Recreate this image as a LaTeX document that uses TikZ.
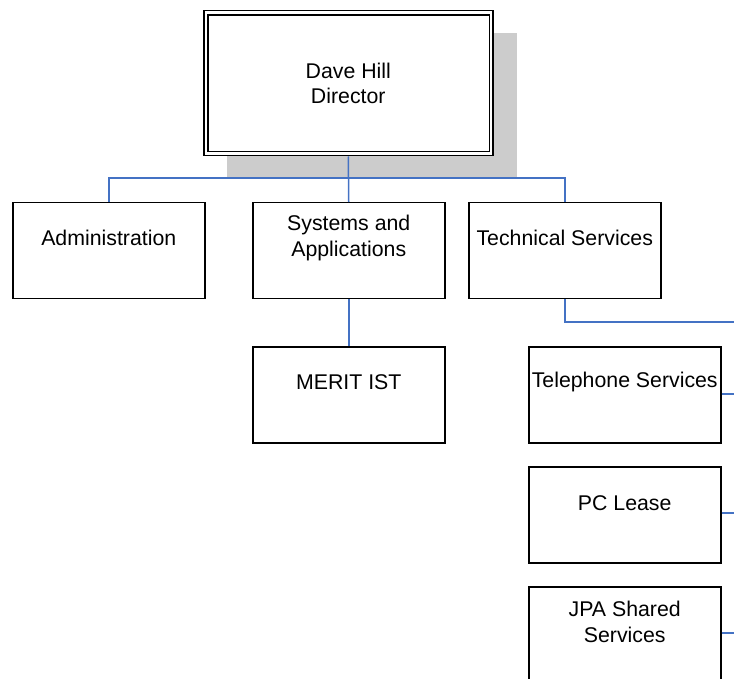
\documentclass[tikz,border=0pt]{standalone}
\usepackage{fontspec}
\setmainfont{Liberation Sans}
\definecolor{linkblue}{RGB}{68,114,196}
\definecolor{shadowgray}{RGB}{204,204,204}
\begin{document}
\begin{tikzpicture}[x=1pt,y=-1pt,
  box/.style={draw=black,line width=1.5pt,fill=white,minimum width=192pt,minimum height=96pt,anchor=north west,inner sep=0pt},
  lbl/.style={align=center,inner sep=0pt,font=\fontsize{21.3}{25.5}\selectfont},
  link/.style={draw=linkblue,line width=1.5pt}]
\useasboundingbox (0,0) rectangle (734,679);
\clip (0,0) rectangle (734,679);
% shadow
\fill[shadowgray] (227,33) rectangle (517,177);
% director
\node[box,minimum width=289pt,minimum height=145pt] (dir) at (203,10) {};
\draw[line width=1.5pt] ([shift={(5pt,-5pt)}]dir.north west) rectangle ([shift={(-4pt,5pt)}]dir.south east);
\node[lbl] (dirt) at (dir.center) {Dave Hill\\Director};
% boxes
\node[box] (adm) at (12,202) {};
\node[box] (sys) at (252,202) {};
\node[box] (tec) at (468,202) {};
\node[box] (mer) at (252,346) {};
\node[box] (tel) at (528,346) {};
\node[box] (pcl) at (528,466) {};
\node[box] (jpa) at (528,586) {};
\node[lbl] (admt) at ([yshift=13pt]adm.center) {Administration};
\node[lbl] (syst) at ([yshift=13pt]sys.center) {Systems and\\Applications};
\node[lbl] (tect) at ([yshift=13pt]tec.center) {Technical Services};
\node[lbl] (mert) at ([yshift=13pt]mer.center) {MERIT IST};
\node[lbl] (telt) at ([yshift=13pt]tel.center) {Telephone Services};
\node[lbl] (pclt) at ([yshift=12pt]pcl.center) {PC Lease};
\node[lbl] (jpat) at ([yshift=13pt]jpa.center) {JPA Shared\\Services};
% connectors
\coordinate (bus) at (347,178);
\coordinate (tend) at (734,322);
\coordinate (e1) at (734,394);
\coordinate (e2) at (734,513);
\coordinate (e3) at (734,633);
\draw[link] (dir.south) -- (sys.north);
\draw[link] (adm.north) |- (bus) -| (tec.north);
\draw[link] (sys.south) -- (mer.north);
\draw[link] (tec.south) |- (tend);
\draw[link] (tel.east |- e1) -- (e1);
\draw[link] (pcl.east |- e2) -- (e2);
\draw[link] (jpa.east |- e3) -- (e3);
\end{tikzpicture}
\end{document}
